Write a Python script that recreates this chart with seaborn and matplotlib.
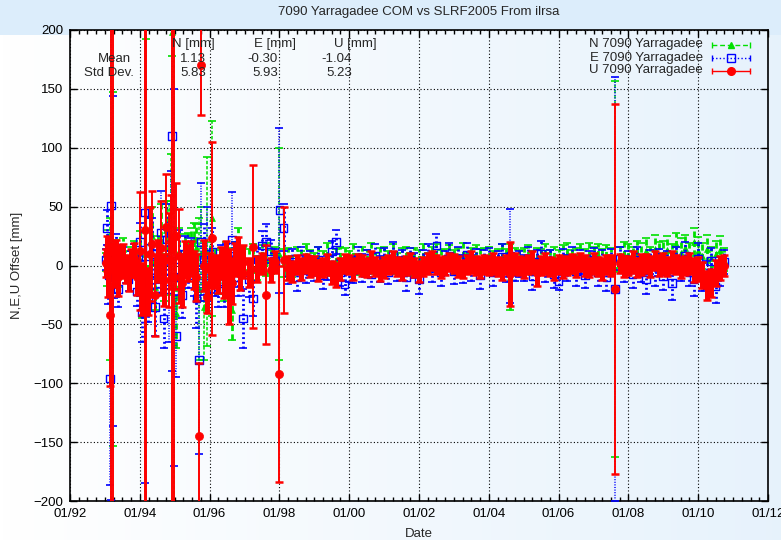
import numpy as np
import matplotlib
matplotlib.use("Agg")
import matplotlib.pyplot as plt
import seaborn as sns
from matplotlib.lines import Line2D
from matplotlib.patches import Rectangle
from matplotlib.ticker import MultipleLocator

# ---------------- data (decimal years, mm) ----------------
dates = [
    1993.02, 1993.06, 1993.10, 1993.14, 1993.18, 1993.22, 1993.27, 1993.32, 1993.38, 1993.45, 1993.52, 1993.60, 1993.68, 1993.76, 1993.84, 1993.92,
    1994.00, 1994.06, 1994.14, 1994.18, 1994.24, 1994.28, 1994.36, 1994.44, 1994.52, 1994.60, 1994.68, 1994.76, 1994.84, 1994.88, 1994.93, 1994.97,
    1995.05, 1995.13, 1995.21, 1995.30, 1995.38, 1995.46, 1995.54, 1995.62, 1995.70, 1995.76, 1995.84, 1995.92,
    1996.00, 1996.08, 1996.16, 1996.24, 1996.32, 1996.40, 1996.48, 1996.56, 1996.64, 1996.72, 1996.80, 1996.88, 1996.96,
    1997.12, 1997.25, 1997.37, 1997.50, 1997.62, 1997.75, 1997.87,
    1998.00, 1998.12, 1998.25, 1998.37, 1998.50, 1998.62, 1998.75, 1998.87,
    1999.00, 1999.12, 1999.25, 1999.37, 1999.50, 1999.62, 1999.75, 1999.87,
    2000.00, 2000.12, 2000.25, 2000.37, 2000.50, 2000.62, 2000.75, 2000.87,
    2001.00, 2001.12, 2001.25, 2001.37, 2001.50, 2001.62, 2001.75, 2001.87,
    2002.00, 2002.12, 2002.25, 2002.37, 2002.50, 2002.62, 2002.75, 2002.87,
    2003.00, 2003.12, 2003.25, 2003.37, 2003.50, 2003.62, 2003.75, 2003.87,
    2004.00, 2004.12, 2004.25, 2004.37, 2004.50, 2004.62, 2004.75, 2004.87,
    2005.00, 2005.12, 2005.25, 2005.37, 2005.50, 2005.62, 2005.75, 2005.87,
    2006.00, 2006.12, 2006.25, 2006.37, 2006.50, 2006.62, 2006.75, 2006.87,
    2007.00, 2007.12, 2007.25, 2007.37, 2007.50, 2007.62, 2007.75, 2007.87,
    2008.00, 2008.12, 2008.25, 2008.37, 2008.50, 2008.62, 2008.75, 2008.87,
    2009.00, 2009.12, 2009.25, 2009.37, 2009.50, 2009.62, 2009.75, 2009.87,
    2010.00, 2010.12, 2010.25, 2010.37, 2010.50, 2010.62, 2010.75,
]

n_val = [
    3, -5, 10, -20, 8, -3, 6, 12, -6, 9, 14, 4, -2, 8, 12, 2,
    15, -25, 10, -8, -15, 20, 25, -18, 10, 22, -10, 30, 15, 50, 198, -30,
    -40, 12, -5, 15, 18, 20, 22, 15, -20, 10, -35, 12,
    8, 40, 3, -12, 6, -10, 8, 5, -38, 10, 18, 4, 6,
    4, 6, -2, 8, 5, 3, 7,
    10, 2, 5, -1, 6, 3, 8, 4,
    2, 6, 3, 9, 0, 4, 7, 5,
    3, 8, 1, 6, 4, 9, 2, 5,
    6, 3, 8, 2, 5, 7, 1, 6,
    4, 8, 2, 6, 9, 3, 5, 7,
    3, 6, 9, 2, 5, 8, 4, 6,
    7, 2, 5, 8, 4, -10, 6, 3,
    5, 8, 2, 6, 4, 9, 3, 7,
    4, 7, 10, 3, 6, 8, 5, 9,
    6, 9, 4, 8, 5, -3, 7, 10,
    8, 5, 11, 7, 12, 6, 14, 9,
    10, 13, 8, 18, 11, 15, 9, 20,
    12, 8, 14, 6, 10, 13, 5,
]
n_err = [
    8, 12, 20, 60, 250, 150, 15, 10, 12, 8, 9, 8, 9, 8, 9, 10,
    14, 20, 220, 200, 15, 20, 25, 20, 15, 30, 20, 25, 40, 45, 20, 250,
    30, 20, 15, 12, 10, 12, 14, 20, 60, 40, 45, 80,
    12, 83, 10, 12, 9, 20, 12, 10, 25, 10, 14, 12, 10,
    10, 12, 10, 9, 14, 10, 9,
    90, 12, 10, 9, 10, 9, 10, 9,
    9, 10, 9, 10, 9, 10, 9, 10,
    9, 10, 9, 10, 9, 10, 9, 10,
    10, 9, 10, 9, 10, 9, 10, 9,
    9, 10, 9, 10, 9, 10, 9, 10,
    10, 9, 10, 9, 10, 9, 10, 9,
    9, 10, 9, 10, 10, 28, 9, 10,
    10, 9, 10, 9, 10, 9, 10, 9,
    9, 10, 9, 10, 9, 10, 9, 10,
    10, 9, 10, 9, 10, 160, 9, 10,
    10, 11, 10, 12, 11, 10, 12, 11,
    11, 12, 10, 10, 12, 11, 10, 12,
    12, 11, 12, 10, 11, 12, 10,
]

e_val = [
    5, 32, -8, -96, 51, 4, -10, 15, -20, 2, 6, -6, -12, 3, 8, -22,
    20, -40, 45, 8, -28, 15, 10, -35, -5, 28, -45, 22, -20, 30, 110, -10,
    -60, 5, -25, 10, -5, 8, -8, -28, -80, 20, 5, 10,
    -8, 12, -12, -20, 5, -15, 6, -5, 22, 8, -10, -6, -45,
    -12, -28, 5, 17, 20, 12, 4,
    47, 32, -6, 3, -10, 6, -4, 2,
    -3, 5, -8, -2, 12, 20, -6, -16,
    -4, -4, 6, -2, 3, -7, 8, -3,
    4, -6, 9, -3, 2, -10, 5, 0,
    -12, 3, 7, -4, 17, -6, 2, 8,
    -5, 6, -3, 9, -2, 4, -8, 3,
    5, -6, 2, 7, -4, 8, -3, 1,
    -2, 6, -9, 3, 10, -4, 2, -7,
    -13, 4, -2, 6, -5, 3, -8, 2,
    5, -6, 3, -10, 4, -20, 6, -3,
    2, -7, 5, -4, -12, 3, -6, 4,
    -9, 2, -15, 5, -3, 8, -6, -12,
    6, -10, -8, 4, -18, -5, 3,
]
e_err = [
    9, 15, 25, 90, 250, 140, 18, 12, 15, 10, 10, 9, 10, 9, 10, 12,
    16, 25, 230, 210, 20, 25, 30, 25, 18, 35, 25, 30, 45, 50, 200, 160,
    35, 25, 20, 15, 14, 15, 18, 25, 80, 50, 30, 40,
    15, 20, 14, 15, 12, 20, 12, 12, 40, 12, 16, 12, 25,
    15, 15, 10, 12, 15, 10, 10,
    70, 20, 10, 11, 12, 10, 11, 10,
    10, 11, 12, 10, 9, 10, 11, 9,
    10, 11, 10, 12, 10, 11, 10, 11,
    11, 10, 11, 10, 11, 12, 10, 11,
    12, 10, 11, 10, 10, 11, 10, 11,
    11, 10, 12, 10, 11, 10, 12, 10,
    10, 11, 10, 11, 10, 40, 10, 11,
    11, 10, 12, 10, 11, 10, 11, 12,
    8, 10, 11, 10, 12, 10, 11, 10,
    10, 11, 10, 12, 10, 180, 10, 11,
    10, 12, 11, 10, 12, 10, 11, 10,
    12, 10, 14, 11, 10, 12, 11, 14,
    13, 12, 12, 11, 14, 12, 10,
]

u_val = [
    2, 10, -5, -42, 12, 5, 0, 8, -10, 3, 5, -3, -8, 2, 6, -10,
    12, -20, 30, -6, -22, 10, 18, -25, 4, 15, -12, 33, 5, 20, 15, -10,
    25, 8, -15, 5, 2, 6, -4, -10, -145, 170, 0, -27,
    -4, 23, -5, -8, 3, -10, 6, -18, -15, 5, 8, -6, 3,
    -6, 16, -3, 2, -25, -4, 3,
    -92, 5, -2, -5, 1, -3, 2, -1,
    0, -4, -2, 1, -6, -8, -3, 2,
    1, -3, 2, 0, -2, 3, -1, -4,
    -2, 1, 3, -1, -3, 0, 2, -2,
    -5, -1, 2, 4, 1, -2, 0, 3,
    2, -1, -3, 1, 3, 0, -2, 1,
    0, 2, -1, -3, 1, -7, 2, 0,
    -2, 1, 3, -6, 0, 2, -1, -3,
    1, -2, 0, 2, -1, 3, 0, -2,
    2, -1, -3, 1, 0, -20, 2, -1,
    0, 3, -2, 1, 2, -1, 4, 0,
    2, -1, 3, 1, -2, 0, 2, -4,
    -3, -8, -17, -15, -6, -2, 0,
]
u_err = [
    12, 15, 22, 60, 260, 250, 18, 14, 16, 14, 13, 12, 14, 12, 13, 15,
    50, 22, 250, 260, 20, 40, 45, 35, 18, 40, 22, 45, 40, 40, 250, 240,
    45, 40, 20, 16, 15, 15, 16, 20, 62, 42, 22, 13,
    15, 82, 14, 15, 13, 18, 15, 32, 18, 14, 16, 15, 14,
    12, 69, 11, 9, 42, 10, 9,
    92, 45, 10, 9, 8, 9, 8, 9,
    8, 9, 8, 9, 10, 10, 9, 8,
    8, 9, 8, 9, 8, 9, 8, 9,
    9, 8, 9, 8, 9, 8, 9, 8,
    9, 8, 9, 8, 8, 9, 8, 8,
    8, 9, 8, 8, 9, 8, 9, 8,
    8, 9, 8, 9, 8, 27, 9, 8,
    9, 8, 9, 11, 8, 9, 8, 9,
    8, 9, 8, 8, 9, 8, 9, 8,
    9, 8, 9, 8, 9, 157, 8, 9,
    8, 9, 8, 9, 8, 9, 8, 9,
    9, 8, 9, 8, 9, 8, 9, 10,
    10, 11, 12, 12, 11, 10, 9,
]

x_ticks = [1992, 1994, 1996, 1998, 2000, 2002, 2004, 2006, 2008, 2010, 2012]
x_tick_labels = ["01/92", "01/94", "01/96", "01/98", "01/00", "01/02",
                 "01/04", "01/06", "01/08", "01/10", "01/12"]
y_ticks = [-200, -150, -100, -50, 0, 50, 100, 150, 200]

title = "7090 Yarragadee COM vs SLRF2005 From ilrsa"
series_labels = ["N 7090 Yarragadee", "E 7090 Yarragadee", "U 7090 Yarragadee"]
stat_cols = ["N [mm]", "E [mm]", "U [mm]"]
stat_mean = ["1.13", "-0.30", "-1.04"]
stat_std = ["5.83", "5.93", "5.23"]

# ---------------- style ----------------
sns.set_theme(style="ticks")
plt.rcParams["font.family"] = ["Liberation Sans", "DejaVu Sans"]
FS = 9.5

W, H = 781, 540
fig = plt.figure(figsize=(W / 100, H / 100), dpi=100)
fig.patch.set_facecolor("white")

def fx(px):
    return px / W

def fy(py):
    return 1 - py / H

# background gradient + top band
bg = fig.add_axes([0, 0, 1, 1], zorder=-10)
left_c = np.array([1.0, 1.0, 1.0])
right_c = np.array([0.905, 0.950, 0.988])
t = np.linspace(0, 1, 256)
img = (left_c[None, :] + (right_c - left_c)[None, :] * t[:, None])[None, :, :]
bg.imshow(img, aspect="auto", extent=[0, 1, 0, 1], origin="lower")
band = "#dcedfb"
bg.add_patch(Rectangle((0, fy(30)), 1, 30 / H, color=band, lw=0))
bg.add_patch(Rectangle((0, fy(35)), fx(70), 5 / H, color=band, lw=0))
bg.add_patch(Rectangle((fx(768), fy(35)), 1 - fx(768), 5 / H, color=band, lw=0))
bg.set_xlim(0, 1)
bg.set_ylim(0, 1)
bg.axis("off")

ax = fig.add_axes([fx(70), fy(501), (768 - 70) / W, (501 - 30) / H])
ax.set_facecolor("none")

GREEN = "#00e000"
BLUE = "#0000ff"
RED = "#ff0000"

# (values, errors, colour, bar dash, marker, marker size, bar width normal, bar width long, cap thick, z)
series = [
    (n_val, n_err, GREEN, (0, (2.2, 1.2)), "^", 18, 2.0, 1.1, 1.2, 2),
    (e_val, e_err, BLUE, (0, (0.7, 1.0)), "s", 30, 2.0, 1.1, 1.2, 4),
    (u_val, u_err, RED, "-", "o", 34, 3.6, 1.4, 1.8, 6),
]
for vals, errs, col, ls, mk, size, lw_n, lw_l, cth, z in series:
    eb = ax.errorbar(dates, vals, yerr=errs, fmt="none", ecolor=col,
                     elinewidth=lw_n, capsize=2.8, capthick=cth, zorder=z)
    eb[2][0].set_linestyle(ls)
    eb[2][0].set_linewidth([lw_n if e < 35 else lw_l for e in errs])
    if mk == "s":
        sns.scatterplot(x=dates, y=vals, ax=ax, marker=mk, s=size,
                        facecolors="none", edgecolor=col, linewidth=1.0,
                        zorder=z + 0.5, legend=False)
    else:
        sns.scatterplot(x=dates, y=vals, ax=ax, marker=mk, s=size,
                        color=col, edgecolor=col, linewidth=0.5,
                        zorder=z + 0.5, legend=False)

ax.set_xlim(1992, 2012)
ax.set_ylim(-200, 200)
ax.set_xticks(x_ticks)
ax.set_xticklabels(x_tick_labels)
ax.xaxis.set_minor_locator(MultipleLocator(0.25))
ax.set_yticks(y_ticks)
ax.set_xlabel("")
ax.set_ylabel("")
ax.set_axisbelow(True)
ax.grid(True, which="major", color="black", linestyle=(0, (1, 2)), linewidth=0.8)
ax.tick_params(which="major", direction="in", length=5, width=1.0, top=True,
               right=True, labelsize=FS, labelcolor="black", color="black", pad=5)
ax.tick_params(which="minor", axis="x", direction="in", length=3, width=1.0,
               top=True, bottom=True, color="black")
ax.tick_params(which="minor", axis="y", left=False, right=False)
for sp in ax.spines.values():
    sp.set_color("black")
    sp.set_linewidth(1.2)
    sp.set_visible(True)

# titles / axis labels
fig.text(fx(419), fy(12), title, ha="center", va="center", fontsize=FS)
fig.text(fx(419), fy(534), "Date", ha="center", va="center", fontsize=FS)
fig.text(fx(17), fy(265.5), "N,E,U Offset [mm]", ha="center", va="center",
         rotation=90, fontsize=FS)

# statistics table
head_x = [193, 274.5, 355]
val_x = [206, 278, 352]
for i in range(3):
    fig.text(fx(head_x[i]), fy(44.5), stat_cols[i], ha="center", va="center", fontsize=FS, zorder=20)
    fig.text(fx(val_x[i]), fy(59), stat_mean[i], ha="right", va="center", fontsize=FS, zorder=20)
    fig.text(fx(val_x[i]), fy(73.3), stat_std[i], ha="right", va="center", fontsize=FS, zorder=20)
fig.text(fx(131), fy(59), "Mean", ha="right", va="center", fontsize=FS, zorder=20)
fig.text(fx(134), fy(73.3), "Std Dev.", ha="right", va="center", fontsize=FS, zorder=20)

# key
key_rows = [44.5, 57.5, 70.5]
key_style = [
    (GREEN, (0, (3.5, 2.0)), "^", GREEN, 4.5),
    (BLUE, (0, (1.0, 1.6)), "s", "none", 5.5),
    (RED, "-", "o", RED, 5.5),
]
for (col, ls, mk, mfc, ms), yy, lab in zip(key_style, key_rows, series_labels):
    fig.text(fx(703), fy(yy), lab, ha="right", va="center", fontsize=FS, zorder=20)
    fig.add_artist(Line2D([fx(712), fx(750)], [fy(yy), fy(yy)], color=col,
                          linestyle=ls, linewidth=1.0, zorder=20))
    fig.add_artist(Line2D([fx(712), fx(750)], [fy(yy), fy(yy)], color=col,
                          linestyle="none", marker="|", markersize=5,
                          markeredgewidth=1.0, zorder=20))
    fig.add_artist(Line2D([fx(731)], [fy(yy)], color=col, linestyle="none",
                          marker=mk, markersize=ms, markerfacecolor=mfc,
                          markeredgecolor=col, markeredgewidth=1.0, zorder=21))

fig.savefig("out.png", dpi=100)
